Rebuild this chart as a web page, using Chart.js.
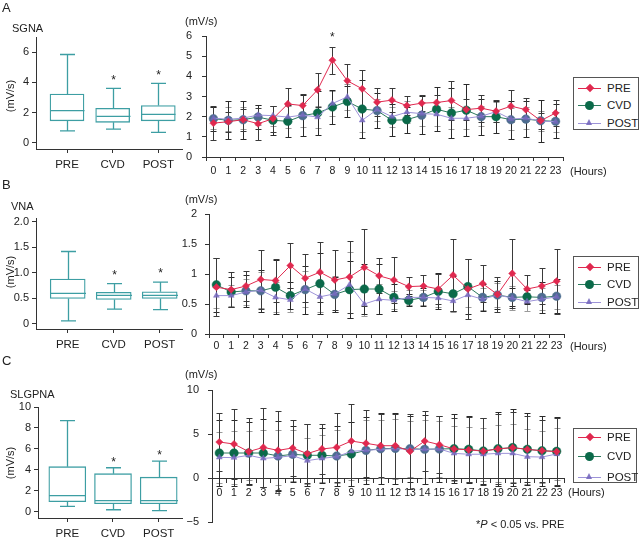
<!DOCTYPE html>
<html>
<head>
<meta charset="utf-8">
<script src="https://cdn.jsdelivr.net/npm/chart.js@4/dist/chart.umd.min.js"></script>
<style>
body { margin: 0; background: #fff; }
#wrap { position: relative; width: 640px; height: 542px; overflow: hidden; font-family: "Liberation Sans", Arial, sans-serif; color: #222; }
canvas { position: absolute; left: 0; top: 0; }
.t { position: absolute; font-size: 11px; line-height: 11px; white-space: nowrap; }
.big { font-size: 13px; line-height: 13px; }
.rot { transform: translate(-50%, -50%) rotate(-90deg); }
.lg { position: absolute; border: 1px solid #555; background: #fff; box-sizing: border-box; }
.lg .row { position: absolute; left: 0; height: 12px; width: 100%; }
.lg .ln { position: absolute; left: 4px; top: 5.5px; width: 23px; height: 1px; }
.lg .mk { position: absolute; }
.lg .lt { position: absolute; left: 33px; top: 0; font-size: 11.5px; line-height: 12px; }
</style>
</head>
<body>
<div id="wrap">
  <canvas id="boxA" width="640" height="542"></canvas>
  <canvas id="lineA" width="640" height="542"></canvas>
  <canvas id="boxB" width="640" height="542"></canvas>
  <canvas id="lineB" width="640" height="542"></canvas>
  <canvas id="boxC" width="640" height="542"></canvas>
  <canvas id="lineC" width="640" height="542"></canvas>

  <div class="t big" style="left:2px;top:1px">A</div>
  <div class="t big" style="left:2px;top:178px">B</div>
  <div class="t big" style="left:2px;top:354px">C</div>
  <div class="t" style="left:12px;top:23px">SGNA</div>
  <div class="t" style="left:11px;top:201px">VNA</div>
  <div class="t" style="left:10px;top:389px">SLGPNA</div>
  <div class="t rot" style="left:10px;top:96px">(mV/s)</div>
  <div class="t rot" style="left:10px;top:272px">(mV/s)</div>
  <div class="t rot" style="left:10px;top:463px">(mV/s)</div>
  <div class="t" style="left:185px;top:16px">(mV/s)</div>
  <div class="t" style="left:185px;top:194px">(mV/s)</div>
  <div class="t" style="left:185px;top:369px">(mV/s)</div>
  <div class="t" style="left:570px;top:166px">(Hours)</div>
  <div class="t" style="left:570px;top:341px">(Hours)</div>
  <div class="t" style="left:568px;top:487px">(Hours)</div>
  <div class="t" style="left:476px;top:519px">*<i>P</i> &lt; 0.05 vs. PRE</div>
</div>
<script>
// categories / tick labels
const groups = ['PRE', 'CVD', 'POST'];
const hours = ['0','1','2','3','4','5','6','7','8','9','10','11','12','13','14','15','16','17','18','19','20','21','22','23'];

// box plots: [min, q1, median, q3, max] for PRE, CVD, POST
const boxSGNA = [[0.78, 1.45, 2.12, 3.22, 5.85], [0.9, 1.35, 1.75, 2.28, 3.6], [0.68, 1.45, 1.88, 2.46, 3.94]];
const boxVNA = [[0.06, 0.5, 0.6, 0.88, 1.42], [0.29, 0.48, 0.56, 0.62, 0.79], [0.28, 0.5, 0.56, 0.63, 0.82]];
const boxSLGPNA = [[0.51, 0.96, 1.53, 4.3, 8.7], [0.19, 0.76, 1.05, 3.63, 4.2], [0.1, 0.76, 1.05, 3.3, 4.84]];
const boxStars = [false, true, true];

// SGNA hourly means and SD
const sgnaPre = [1.68,1.75,1.85,1.65,1.9,2.63,2.55,3.33,4.8,3.78,3.38,2.72,2.82,2.55,2.67,2.7,2.8,2.35,2.42,2.27,2.52,2.35,1.8,2.18];
const sgnaCvd = [1.9,1.82,1.85,1.98,1.82,1.77,2.05,2.18,2.48,2.75,2.38,2.3,1.82,1.85,2.07,2.37,2.18,2.32,2.0,2.0,1.85,1.88,1.8,1.77];
const sgnaPost = [1.93,1.87,1.93,2.08,2.05,1.98,2.08,1.98,2.65,2.98,1.82,2.35,2.0,2.22,2.15,2.12,1.92,1.92,2.02,2.25,1.88,1.93,1.78,1.75];
const sgnaPreSd = [0.83,0.5,0.55,0.8,0.65,0.8,0.57,0.85,0.67,0.85,0.94,0.71,0.6,0.47,0.41,0.37,0.95,0.53,0.66,0.55,0.78,0.57,0.4,0.64];
const sgnaCvdSd = [0.6,0.95,0.95,0.6,0.72,0.8,1.0,1.1,0.82,0.75,1.45,0.85,0.8,0.65,0.95,1.1,1.25,1.3,0.9,0.8,0.95,0.9,1.05,0.85];
const sgnaPostSd = [0.55,0.6,0.55,0.5,0.5,0.55,0.6,0.55,0.6,0.65,0.6,0.55,0.5,0.55,0.6,0.6,0.55,0.55,0.5,0.5,0.55,0.55,0.5,0.5];
const sgnaStars = [8];

// VNA hourly means and SD
const vnaPre = [0.78,0.74,0.8,0.91,0.89,1.14,0.93,1.03,0.9,0.95,1.11,0.97,0.9,0.79,0.8,0.75,0.98,0.75,0.84,0.66,1.01,0.75,0.8,0.88];
const vnaCvd = [0.82,0.7,0.72,0.72,0.78,0.64,0.74,0.84,0.66,0.74,0.75,0.75,0.61,0.56,0.61,0.71,0.67,0.79,0.61,0.65,0.61,0.62,0.61,0.63];
const vnaPost = [0.64,0.64,0.7,0.73,0.61,0.57,0.75,0.62,0.67,0.82,0.5,0.58,0.56,0.61,0.61,0.6,0.55,0.65,0.58,0.65,0.6,0.54,0.58,0.62];
const vnaPreSd = [0.48,0.29,0.25,0.49,0.36,0.38,0.4,0.5,0.5,0.6,0.64,0.29,0.39,0.16,0.19,0.25,0.6,0.5,0.31,0.29,0.57,0.23,0.3,0.54];
const vnaCvdSd = [0.45,0.25,0.27,0.35,0.45,0.23,0.4,0.51,0.29,0.47,0.42,0.42,0.22,0.1,0.15,0.3,0.29,0.46,0.22,0.24,0.15,0.12,0.26,0.28];
const vnaPostSd = [0.2,0.18,0.22,0.3,0.25,0.2,0.3,0.25,0.3,0.55,0.2,0.25,0.15,0.12,0.12,0.15,0.18,0.2,0.18,0.2,0.2,0.15,0.18,0.2];

// SLGPNA hourly means and SD
const slgPre = [4.09,3.86,3.0,3.48,3.14,3.41,2.77,3.3,3.48,4.2,3.94,3.67,3.67,3.03,4.2,3.79,3.3,3.2,3.05,3.3,3.45,3.25,3.1,3.0];
const slgCvd = [2.84,2.84,2.84,2.84,2.5,2.69,2.58,2.58,2.5,2.73,3.14,3.33,3.37,3.33,3.26,3.3,3.33,3.26,3.07,3.33,3.45,3.26,3.1,3.03];
const slgPost = [2.35,2.31,2.58,2.23,2.35,2.54,1.97,2.23,2.42,3.03,3.14,3.26,3.33,3.26,3.26,3.3,2.8,2.7,2.7,2.8,2.8,2.42,2.38,2.73];
const slgPreSd = [3.33,3.98,3.78,4.51,4.47,3.18,3.33,2.8,3.94,4.17,3.79,3.6,3.64,4.24,3.41,3.26,3.5,3.7,3.8,4.0,4.05,3.75,3.5,3.85];
const slgCvdSd = [3.7,3.7,3.55,3.85,4.0,3.2,3.5,3.1,3.4,3.6,3.8,4.0,4.0,3.75,3.95,3.8,3.9,3.8,3.7,4.2,4.4,4.1,4.0,3.9];
const slgPostSd = [2.9,3.0,2.8,3.2,3.1,2.9,2.6,2.7,3.0,3.3,3.4,3.3,3.4,3.2,3.3,3.2,3.1,3.1,3.0,3.2,3.3,3.1,3.0,3.0];

const TEAL = '#3d9ea3';
const AXIS = '#333';
const RED = '#e0294f', GREEN = '#0b6a4a';

Chart.defaults.font.family = '"Liberation Sans", Arial, sans-serif';
Chart.defaults.color = '#222';

// chart area is placed by padding on a full-size canvas
function padFor(area, yW, xH) {
    return { left: area.l - yW, top: area.t, right: 640 - area.r, bottom: 542 - area.b - xH };
}

function boxChart(id, area, box, yMin, yMax, yTicks, centers, barW, fmt, starOff) {
    const sp = (centers[2] - centers[0]) / 2;
    const xMin = -(centers[0] - area.l) / sp;
    const xMax = (area.r - centers[0]) / sp;
    const boxPlugin = {
        id: 'box_' + id,
        afterDatasetsDraw(chart) {
            const { ctx } = chart;
            const xs = chart.scales.x, ys = chart.scales.y;
            ctx.save();
            ctx.strokeStyle = TEAL;
            ctx.lineWidth = 1.3;
            box.forEach((b, i) => {
                const x = Math.round(xs.getPixelForValue(i)) + 0.5;
                const half = barW / 2;
                const pMin = ys.getPixelForValue(b[0]);
                const pQ1 = ys.getPixelForValue(b[1]);
                const pMed = ys.getPixelForValue(b[2]);
                const pQ3 = ys.getPixelForValue(b[3]);
                const pMax = ys.getPixelForValue(b[4]);
                ctx.beginPath();
                ctx.moveTo(x - half, pMed); ctx.lineTo(x + half, pMed);
                ctx.moveTo(x, pQ3); ctx.lineTo(x, pMax);
                ctx.moveTo(x - 7.5, pMax); ctx.lineTo(x + 7.5, pMax);
                ctx.moveTo(x, pQ1); ctx.lineTo(x, pMin);
                ctx.moveTo(x - 7.5, pMin); ctx.lineTo(x + 7.5, pMin);
                ctx.stroke();
                if (boxStars[i]) {
                    ctx.fillStyle = '#222';
                    ctx.font = '12px "Liberation Sans", Arial, sans-serif';
                    ctx.textAlign = 'center';
                    ctx.textBaseline = 'middle';
                    ctx.fillText('*', x, pMax - starOff);
                }
            });
            ctx.restore();
        }
    };
    return new Chart(document.getElementById(id), {
        type: 'bar',
        data: {
            datasets: [{
                data: box.map((b, i) => ({ x: i, y: [b[1], b[3]] })),
                backgroundColor: '#fff',
                borderColor: TEAL,
                borderWidth: 1.3,
                borderSkipped: false,
                barThickness: barW
            }]
        },
        options: {
            responsive: false,
            animation: false,
            events: [],
            layout: { padding: padFor(area, 36, 20) },
            plugins: { legend: { display: false }, tooltip: { enabled: false } },
            scales: {
                x: {
                    type: 'linear', min: xMin, max: xMax, offset: false,
                    afterFit: s => { s.height = 20; },
                    afterBuildTicks: s => { s.ticks = [0, 1, 2].map(v => ({ value: v })); },
                    ticks: { callback: v => groups[v], font: { size: 11.5 }, padding: 5, maxRotation: 0 },
                    grid: { offset: false, drawOnChartArea: false, tickLength: 4, color: AXIS },
                    border: { color: AXIS }
                },
                y: {
                    min: yMin, max: yMax,
                    afterFit: s => { s.width = 36; },
                    afterBuildTicks: s => { s.ticks = yTicks.map(v => ({ value: v })); },
                    ticks: { callback: fmt, font: { size: 11 }, padding: 3 },
                    grid: { drawOnChartArea: false, tickLength: 4, color: AXIS },
                    border: { color: AXIS }
                }
            }
        },
        plugins: [boxPlugin]
    });
}

function lineChart(id, area, pre, cvd, post, sds, yMin, yMax, yTicks, yPad, xPad, stars, xAtZero) {
    const errPlugin = {
        id: 'err_' + id,
        beforeDatasetsDraw(chart) {
            const { ctx } = chart;
            const ys = chart.scales.y;
            const cols = ['#3a3a3a', '#9a9a9a', '#2a2a2a'];
            ctx.save();
            ctx.lineWidth = 1;
            [1, 2, 0].forEach(i => {
                const meta = chart.getDatasetMeta(i);
                const vals = chart.data.datasets[i].data;
                const sd = chart.data.datasets[i].sd;
                ctx.strokeStyle = cols[i];
                meta.data.forEach((pt, j) => {
                    const x = Math.round(pt.x) + 0.5;
                    const t = Math.round(ys.getPixelForValue(vals[j] + sd[j])) + 0.5;
                    const b = Math.round(ys.getPixelForValue(vals[j] - sd[j])) + 0.5;
                    ctx.beginPath();
                    ctx.moveTo(x, t); ctx.lineTo(x, b);
                    ctx.moveTo(x - 3, t); ctx.lineTo(x + 3, t);
                    ctx.moveTo(x - 3, b); ctx.lineTo(x + 3, b);
                    ctx.stroke();
                });
            });
            ctx.fillStyle = '#222';
            ctx.font = '12px "Liberation Sans", Arial, sans-serif';
            ctx.textAlign = 'center';
            ctx.textBaseline = 'middle';
            stars.forEach(h => {
                const pt = chart.getDatasetMeta(0).data[h];
                ctx.fillText('*', pt.x, ys.getPixelForValue(pre[h] + sds[0][h]) - 9);
            });
            ctx.restore();
        }
    };
    const cvdColor = c => {
        const ys = c.chart.scales.y;
        const i = c.dataIndex;
        if (!ys || i === undefined) return GREEN;
        return Math.abs(ys.getPixelForValue(cvd[i]) - ys.getPixelForValue(post[i])) < 2.2 ? '#4d6d8f' : GREEN;
    };
    const xScale = {
        type: 'category', offset: true,
        afterFit: s => { s.height = xAtZero ? 0 : 20; },
        ticks: { autoSkip: false, maxRotation: 0, font: { size: 10.5 }, padding: xPad },
        grid: { offset: true, drawOnChartArea: false, tickLength: 4, color: AXIS },
        border: { color: AXIS }
    };
    if (xAtZero) xScale.position = { y: 0 };
    return new Chart(document.getElementById(id), {
        type: 'line',
        data: {
            labels: hours,
            datasets: [
                { label: 'PRE', data: pre, sd: sds[0], borderColor: RED, borderWidth: 1, pointStyle: 'rectRot',
                  pointRadius: 3.6, pointBackgroundColor: RED, pointBorderColor: RED, pointBorderWidth: 0.5 },
                { label: 'POST', data: post, sd: sds[2], borderColor: '#9d93d8', borderWidth: 1, pointStyle: 'triangle',
                  pointRadius: 3.4, pointBackgroundColor: 'rgba(118,104,190,0.85)', pointBorderColor: 'rgba(118,104,190,0.85)', pointBorderWidth: 0.5 },
                { label: 'CVD', data: cvd, sd: sds[1], borderColor: '#2b7a5c', borderWidth: 1, pointStyle: 'circle',
                  pointRadius: 4.3, pointBackgroundColor: cvdColor, pointBorderColor: cvdColor, pointBorderWidth: 0.5 }
            ]
        },
        options: {
            responsive: false,
            animation: false,
            events: [],
            layout: { padding: padFor(area, 30, xAtZero ? 0 : 20) },
            plugins: { legend: { display: false }, tooltip: { enabled: false } },
            scales: {
                x: xScale,
                y: {
                    min: yMin, max: yMax,
                    afterFit: s => { s.width = 30; },
                    afterBuildTicks: s => { s.ticks = yTicks.map(v => ({ value: v })); },
                    ticks: { font: { size: 11 }, padding: yPad, callback: v => (v < 0 ? '\u2212' + Math.abs(v) : String(v)) },
                    grid: { drawOnChartArea: false, tickLength: 4, color: AXIS },
                    border: { color: AXIS }
                }
            }
        },
        plugins: [errPlugin]
    });
}

const fmtInt = v => String(v);
const fmtOne = v => (v === 0 ? '0' : v.toFixed(1));

boxChart('boxA', { l: 36, t: 37, r: 182, b: 149 }, boxSGNA, -0.42, 7.01, [0, 2, 4, 6], [67, 113, 158.3], 34, fmtInt, 8);
boxChart('boxB', { l: 36, t: 218, r: 182, b: 329 }, boxVNA, -0.098, 2.076, [0, 0.5, 1, 1.5, 2], [67.7, 113.7, 159.7], 35, fmtOne, 8);
boxChart('boxC', { l: 38, t: 407, r: 182, b: 518 }, boxSLGPNA, -0.6, 10, [0, 2, 4, 6, 8, 10], [67.3, 113.3, 158.7], 37, fmtInt, 5);

lineChart('lineA', { l: 206, t: 36, r: 563, b: 157 }, sgnaPre, sgnaCvd, sgnaPost, [sgnaPreSd, sgnaCvdSd, sgnaPostSd],
    0, 6, [0, 1, 2, 3, 4, 5, 6], 10, 4, sgnaStars, false);
lineChart('lineB', { l: 209, t: 214, r: 564, b: 334 }, vnaPre, vnaCvd, vnaPost, [vnaPreSd, vnaCvdSd, vnaPostSd],
    0, 2, [0, 0.5, 1, 1.5, 2], 8, 2, [], false);
lineChart('lineC', { l: 212, t: 390, r: 564, b: 522 }, slgPre, slgCvd, slgPost, [slgPreSd, slgCvdSd, slgPostSd],
    -5, 10, [-5, 0, 5, 10], 9, 5, [], true);

// legends
const legendStyles = [
    { line: RED, mk: 'dia', col: RED },
    { line: '#2b7a5c', mk: 'circ', col: GREEN },
    { line: '#9d93d8', mk: 'tri', col: 'rgba(118,104,190,0.9)' }
];
function legend(left, top, w, h, rows) {
    const box = document.createElement('div');
    box.className = 'lg';
    Object.assign(box.style, { left: left + 'px', top: top + 'px', width: w + 'px', height: h + 'px' });
    groups.forEach((g, i) => {
        const st = legendStyles[i];
        const row = document.createElement('div');
        row.className = 'row';
        row.style.top = rows[i] + 'px';
        const ln = document.createElement('span');
        ln.className = 'ln';
        ln.style.background = st.line;
        const mk = document.createElement('span');
        mk.className = 'mk';
        if (st.mk === 'dia') {
            Object.assign(mk.style, { left: '12.5px', top: '2.5px', width: '6px', height: '6px', background: st.col, transform: 'rotate(45deg)' });
        } else if (st.mk === 'circ') {
            Object.assign(mk.style, { left: '11px', top: '1.5px', width: '9px', height: '9px', borderRadius: '50%', background: st.col });
        } else {
            Object.assign(mk.style, { left: '12px', top: '2px', width: 0, height: 0, borderLeft: '3.5px solid transparent',
                borderRight: '3.5px solid transparent', borderBottom: '6.5px solid ' + st.col });
        }
        const lt = document.createElement('span');
        lt.className = 'lt';
        lt.textContent = g;
        row.appendChild(ln); row.appendChild(mk); row.appendChild(lt);
        box.appendChild(row);
    });
    document.getElementById('wrap').appendChild(box);
}
legend(573, 77, 66, 53, [4, 21, 39]);
legend(573, 256, 66, 53, [4, 21, 39]);
legend(573, 428, 64, 55, [2, 21, 42]);
</script>
</body>
</html>
